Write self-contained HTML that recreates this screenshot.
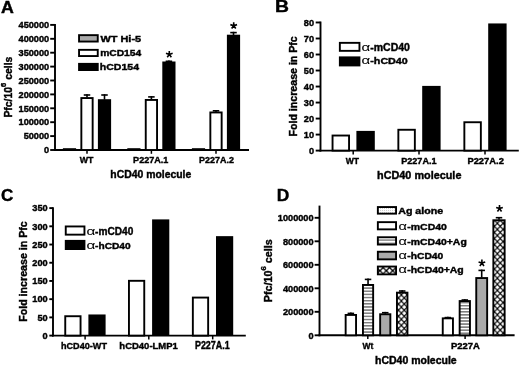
<!DOCTYPE html>
<html><head><meta charset="utf-8"><style>
html,body{margin:0;padding:0;background:#fff;overflow:hidden;}
svg{display:block;filter:grayscale(1) blur(0.3px);}
text{font-family:"Liberation Sans",sans-serif;fill:#000;stroke:#000;stroke-width:0.4px;}
</style></head><body>
<svg width="520" height="366" viewBox="0 0 520 366">
<defs>
<pattern id="stripes" width="6" height="3.14" patternUnits="userSpaceOnUse" y="1.61"><rect width="6" height="3.14" fill="#fff"/><rect y="0" width="6" height="1.5" fill="#7c7c7c"/></pattern>
<pattern id="stripes2" width="6" height="3.06" patternUnits="userSpaceOnUse" y="2.0"><rect width="6" height="3.06" fill="#fff"/><rect y="0" width="6" height="1.5" fill="#7c7c7c"/></pattern>
<pattern id="stripesL" width="6" height="3.2" patternUnits="userSpaceOnUse" y="2.6"><rect width="6" height="3.2" fill="#fff"/><rect y="0" width="6" height="1.4" fill="#7c7c7c"/></pattern>
<pattern id="xhatch" width="5.8" height="6.1" patternUnits="userSpaceOnUse" x="395.55" y="294.9"><rect width="5.8" height="6.1" fill="#fff"/><path d="M-1,-1.05 L6.8,7.15 M-1,7.15 L6.8,-1.05" stroke="#000" stroke-width="1.15"/></pattern>
<pattern id="xhatch2" width="5.8" height="6.1" patternUnits="userSpaceOnUse" x="497.35" y="223.3"><rect width="5.8" height="6.1" fill="#fff"/><path d="M-1,-1.05 L6.8,7.15 M-1,7.15 L6.8,-1.05" stroke="#000" stroke-width="1.15"/></pattern>
<pattern id="xhatchL" width="6.4" height="6.4" patternUnits="userSpaceOnUse" x="2.3" y="1.9"><rect width="6.4" height="6.4" fill="#fff"/><path d="M-1,-1 L7.4,7.4 M-1,7.4 L7.4,-1" stroke="#000" stroke-width="1.3"/></pattern>
<pattern id="dots" width="2" height="2" patternUnits="userSpaceOnUse"><rect width="2" height="2" fill="#fff"/><rect width="1" height="1" fill="#c8c8c8"/></pattern>
<pattern id="dotsL" width="2" height="2" patternUnits="userSpaceOnUse"><rect width="2" height="2" fill="#fff"/><rect width="1" height="1" fill="#cfcfcf"/></pattern>
</defs>
<rect width="520" height="366" fill="#fff"/>
<text transform="translate(0.96,12.60) scale(1.135,1)" font-size="15.65" font-family='"Liberation Sans",sans-serif' font-weight="bold">A</text>
<line x1="55.00" y1="23.95" x2="55.00" y2="150.95" stroke="#000" stroke-width="1.9"/>
<line x1="50.20" y1="150.00" x2="55.00" y2="150.00" stroke="#000" stroke-width="1.9"/>
<text x="49.20" y="153.24" font-size="9.2" text-anchor="end" font-weight="bold">0</text>
<line x1="50.20" y1="136.10" x2="55.00" y2="136.10" stroke="#000" stroke-width="1.9"/>
<text x="49.20" y="139.34" font-size="9.2" text-anchor="end" font-weight="bold">50000</text>
<line x1="50.20" y1="122.20" x2="55.00" y2="122.20" stroke="#000" stroke-width="1.9"/>
<text x="49.20" y="125.44" font-size="9.2" text-anchor="end" font-weight="bold">100000</text>
<line x1="50.20" y1="108.30" x2="55.00" y2="108.30" stroke="#000" stroke-width="1.9"/>
<text x="49.20" y="111.54" font-size="9.2" text-anchor="end" font-weight="bold">150000</text>
<line x1="50.20" y1="94.40" x2="55.00" y2="94.40" stroke="#000" stroke-width="1.9"/>
<text x="49.20" y="97.64" font-size="9.2" text-anchor="end" font-weight="bold">200000</text>
<line x1="50.20" y1="80.50" x2="55.00" y2="80.50" stroke="#000" stroke-width="1.9"/>
<text x="49.20" y="83.74" font-size="9.2" text-anchor="end" font-weight="bold">250000</text>
<line x1="50.20" y1="66.60" x2="55.00" y2="66.60" stroke="#000" stroke-width="1.9"/>
<text x="49.20" y="69.84" font-size="9.2" text-anchor="end" font-weight="bold">300000</text>
<line x1="50.20" y1="52.70" x2="55.00" y2="52.70" stroke="#000" stroke-width="1.9"/>
<text x="49.20" y="55.94" font-size="9.2" text-anchor="end" font-weight="bold">350000</text>
<line x1="50.20" y1="38.80" x2="55.00" y2="38.80" stroke="#000" stroke-width="1.9"/>
<text x="49.20" y="42.04" font-size="9.2" text-anchor="end" font-weight="bold">400000</text>
<line x1="50.20" y1="24.90" x2="55.00" y2="24.90" stroke="#000" stroke-width="1.9"/>
<text x="49.20" y="28.14" font-size="9.2" text-anchor="end" font-weight="bold">450000</text>
<line x1="54.05" y1="150.00" x2="249.00" y2="150.00" stroke="#000" stroke-width="1.9"/>
<line x1="87.00" y1="150.00" x2="87.00" y2="153.80" stroke="#000" stroke-width="1.5"/>
<line x1="151.40" y1="150.00" x2="151.40" y2="153.80" stroke="#000" stroke-width="1.5"/>
<line x1="216.00" y1="150.00" x2="216.00" y2="153.80" stroke="#000" stroke-width="1.5"/>
<rect x="63.85" y="149.15" width="11.30" height="0.85" fill="#a9a9a9" stroke="#000" stroke-width="1.9"/>
<rect x="81.35" y="98.05" width="11.30" height="51.95" fill="white" stroke="#000" stroke-width="1.9"/>
<line x1="87.00" y1="97.60" x2="87.00" y2="94.20" stroke="#000" stroke-width="1.6"/>
<line x1="83.75" y1="95.00" x2="90.25" y2="95.00" stroke="#000" stroke-width="1.6"/>
<rect x="97.90" y="99.20" width="13.20" height="50.80" fill="#000"/>
<line x1="104.50" y1="99.70" x2="104.50" y2="94.20" stroke="#000" stroke-width="1.6"/>
<line x1="101.25" y1="95.00" x2="107.75" y2="95.00" stroke="#000" stroke-width="1.6"/>
<rect x="128.25" y="149.15" width="11.30" height="0.85" fill="#a9a9a9" stroke="#000" stroke-width="1.9"/>
<rect x="145.75" y="99.95" width="11.30" height="50.05" fill="white" stroke="#000" stroke-width="1.9"/>
<line x1="151.40" y1="99.50" x2="151.40" y2="96.10" stroke="#000" stroke-width="1.6"/>
<line x1="148.15" y1="96.90" x2="154.65" y2="96.90" stroke="#000" stroke-width="1.6"/>
<rect x="162.30" y="61.50" width="13.20" height="88.50" fill="#000"/>
<line x1="168.90" y1="62.00" x2="168.90" y2="60.50" stroke="#000" stroke-width="1.6"/>
<line x1="165.65" y1="61.30" x2="172.15" y2="61.30" stroke="#000" stroke-width="1.6"/>
<rect x="192.85" y="149.15" width="11.30" height="0.85" fill="#a9a9a9" stroke="#000" stroke-width="1.9"/>
<rect x="210.35" y="112.45" width="11.30" height="37.55" fill="white" stroke="#000" stroke-width="1.9"/>
<line x1="216.00" y1="112.00" x2="216.00" y2="110.00" stroke="#000" stroke-width="1.6"/>
<line x1="212.75" y1="110.80" x2="219.25" y2="110.80" stroke="#000" stroke-width="1.6"/>
<rect x="226.90" y="34.70" width="13.20" height="115.30" fill="#000"/>
<line x1="233.50" y1="35.20" x2="233.50" y2="31.80" stroke="#000" stroke-width="1.6"/>
<line x1="230.25" y1="32.60" x2="236.75" y2="32.60" stroke="#000" stroke-width="1.6"/>
<path d="M169.30,54.40 L169.30,50.90 M169.30,54.40 L172.63,53.32 M169.30,54.40 L171.36,57.23 M169.30,54.40 L167.24,57.23 M169.30,54.40 L165.97,53.32 " stroke="#000" stroke-width="1.6" stroke-linecap="butt" fill="none"/>
<path d="M233.70,25.70 L233.70,22.20 M233.70,25.70 L237.03,24.62 M233.70,25.70 L235.76,28.53 M233.70,25.70 L231.64,28.53 M233.70,25.70 L230.37,24.62 " stroke="#000" stroke-width="1.6" stroke-linecap="butt" fill="none"/>
<rect x="79.05" y="35.15" width="18.70" height="6.40" fill="#a9a9a9" stroke="#000" stroke-width="1.9"/>
<rect x="79.05" y="49.85" width="18.70" height="6.20" fill="white" stroke="#000" stroke-width="1.9"/>
<rect x="78.10" y="62.90" width="20.60" height="8.10" fill="#000"/>
<text transform="translate(100.50,41.60) scale(1.217,1)" font-size="8.97" font-family='"Liberation Sans",sans-serif' font-weight="bold">WT Hi-5</text>
<text transform="translate(100.13,55.70) scale(1.058,1)" font-size="9.71" font-family='"Liberation Sans",sans-serif' font-weight="bold">mCD154</text>
<text transform="translate(99.76,69.80) scale(1.092,1)" font-size="9.66" font-family='"Liberation Sans",sans-serif' font-weight="bold">hCD154</text>
<text transform="translate(11.90,117.58) rotate(-90) scale(0.995,1)" font-size="10.48" font-weight="bold">Pfc/10<tspan font-size="7.55" dy="-5.87">6</tspan><tspan dy="5.87"> cells</tspan></text>
<text transform="translate(79.80,163.00) scale(0.934,1)" font-size="9.42" font-family='"Liberation Sans",sans-serif' font-weight="bold">WT</text>
<text transform="translate(133.11,163.00) scale(0.978,1)" font-size="9.29" font-family='"Liberation Sans",sans-serif' font-weight="bold">P227A.1</text>
<text transform="translate(199.12,163.00) scale(0.962,1)" font-size="9.29" font-family='"Liberation Sans",sans-serif' font-weight="bold">P227A.2</text>
<text transform="translate(110.27,177.80) scale(0.970,1)" font-size="10.76" font-family='"Liberation Sans",sans-serif' font-weight="bold">hCD40 molecule</text>
<text transform="translate(275.04,12.00) scale(1.192,1)" font-size="16.23" font-family='"Liberation Sans",sans-serif' font-weight="bold">B</text>
<line x1="320.50" y1="21.53" x2="320.50" y2="151.55" stroke="#000" stroke-width="1.9"/>
<line x1="315.70" y1="150.60" x2="320.50" y2="150.60" stroke="#000" stroke-width="1.9"/>
<text x="314.10" y="153.84" font-size="9.2" text-anchor="end" font-weight="bold">0</text>
<line x1="315.70" y1="134.58" x2="320.50" y2="134.58" stroke="#000" stroke-width="1.9"/>
<text x="314.10" y="137.82" font-size="9.2" text-anchor="end" font-weight="bold">10</text>
<line x1="315.70" y1="118.57" x2="320.50" y2="118.57" stroke="#000" stroke-width="1.9"/>
<text x="314.10" y="121.81" font-size="9.2" text-anchor="end" font-weight="bold">20</text>
<line x1="315.70" y1="102.56" x2="320.50" y2="102.56" stroke="#000" stroke-width="1.9"/>
<text x="314.10" y="105.79" font-size="9.2" text-anchor="end" font-weight="bold">30</text>
<line x1="315.70" y1="86.54" x2="320.50" y2="86.54" stroke="#000" stroke-width="1.9"/>
<text x="314.10" y="89.78" font-size="9.2" text-anchor="end" font-weight="bold">40</text>
<line x1="315.70" y1="70.52" x2="320.50" y2="70.52" stroke="#000" stroke-width="1.9"/>
<text x="314.10" y="73.76" font-size="9.2" text-anchor="end" font-weight="bold">50</text>
<line x1="315.70" y1="54.51" x2="320.50" y2="54.51" stroke="#000" stroke-width="1.9"/>
<text x="314.10" y="57.75" font-size="9.2" text-anchor="end" font-weight="bold">60</text>
<line x1="315.70" y1="38.50" x2="320.50" y2="38.50" stroke="#000" stroke-width="1.9"/>
<text x="314.10" y="41.73" font-size="9.2" text-anchor="end" font-weight="bold">70</text>
<line x1="315.70" y1="22.48" x2="320.50" y2="22.48" stroke="#000" stroke-width="1.9"/>
<text x="314.10" y="25.72" font-size="9.2" text-anchor="end" font-weight="bold">80</text>
<line x1="319.55" y1="150.60" x2="518.80" y2="150.60" stroke="#000" stroke-width="1.9"/>
<line x1="353.20" y1="150.60" x2="353.20" y2="154.40" stroke="#000" stroke-width="1.5"/>
<line x1="419.00" y1="150.60" x2="419.00" y2="154.40" stroke="#000" stroke-width="1.5"/>
<line x1="485.00" y1="150.60" x2="485.00" y2="154.40" stroke="#000" stroke-width="1.5"/>
<rect x="332.55" y="135.53" width="16.50" height="15.07" fill="white" stroke="#000" stroke-width="1.9"/>
<rect x="356.40" y="130.90" width="18.40" height="19.70" fill="#000"/>
<rect x="398.35" y="129.77" width="16.50" height="20.83" fill="white" stroke="#000" stroke-width="1.9"/>
<rect x="422.20" y="85.90" width="18.40" height="64.70" fill="#000"/>
<rect x="464.35" y="122.24" width="16.50" height="28.36" fill="white" stroke="#000" stroke-width="1.9"/>
<rect x="488.20" y="23.44" width="18.40" height="127.16" fill="#000"/>
<rect x="339.85" y="42.85" width="19.60" height="8.00" fill="white" stroke="#000" stroke-width="1.9"/>
<rect x="338.90" y="56.40" width="21.50" height="10.00" fill="#000"/>
<text transform="translate(361.40,51.30) scale(1.469,1)" font-size="10.21" font-family='"Liberation Serif",serif' font-weight="normal" style="stroke-width:0.05px">α</text>
<text transform="translate(370.28,51.30) scale(1.037,1)" font-size="10.14" font-family='"Liberation Sans",sans-serif' font-weight="bold">-mCD40</text>
<text transform="translate(361.40,64.20) scale(1.469,1)" font-size="10.21" font-family='"Liberation Serif",serif' font-weight="normal" style="stroke-width:0.05px">α</text>
<text transform="translate(370.27,64.20) scale(1.161,1)" font-size="9.24" font-family='"Liberation Sans",sans-serif' font-weight="bold">-hCD40</text>
<text transform="translate(297.40,136.49) rotate(-90) scale(0.975,1)" font-size="10.90" font-weight="bold">Fold increase in Pfc</text>
<text transform="translate(345.70,163.80) scale(0.921,1)" font-size="9.28" font-family='"Liberation Sans",sans-serif' font-weight="bold">WT</text>
<text transform="translate(401.21,163.80) scale(0.993,1)" font-size="9.14" font-family='"Liberation Sans",sans-serif' font-weight="bold">P227A.1</text>
<text transform="translate(467.39,163.80) scale(1.026,1)" font-size="9.14" font-family='"Liberation Sans",sans-serif' font-weight="bold">P227A.2</text>
<text transform="translate(377.04,178.60) scale(1.009,1)" font-size="10.76" font-family='"Liberation Sans",sans-serif' font-weight="bold">hCD40 molecule</text>
<text transform="translate(0.97,200.90) scale(1.045,1)" font-size="16.29" font-family='"Liberation Sans",sans-serif' font-weight="bold">C</text>
<line x1="53.00" y1="207.15" x2="53.00" y2="336.55" stroke="#000" stroke-width="1.9"/>
<line x1="49.30" y1="335.60" x2="53.00" y2="335.60" stroke="#000" stroke-width="1.9"/>
<text x="47.70" y="338.84" font-size="9.2" text-anchor="end" font-weight="bold">0</text>
<line x1="49.30" y1="317.39" x2="53.00" y2="317.39" stroke="#000" stroke-width="1.9"/>
<text x="47.70" y="320.62" font-size="9.2" text-anchor="end" font-weight="bold">50</text>
<line x1="49.30" y1="299.17" x2="53.00" y2="299.17" stroke="#000" stroke-width="1.9"/>
<text x="47.70" y="302.41" font-size="9.2" text-anchor="end" font-weight="bold">100</text>
<line x1="49.30" y1="280.96" x2="53.00" y2="280.96" stroke="#000" stroke-width="1.9"/>
<text x="47.70" y="284.19" font-size="9.2" text-anchor="end" font-weight="bold">150</text>
<line x1="49.30" y1="262.74" x2="53.00" y2="262.74" stroke="#000" stroke-width="1.9"/>
<text x="47.70" y="265.98" font-size="9.2" text-anchor="end" font-weight="bold">200</text>
<line x1="49.30" y1="244.53" x2="53.00" y2="244.53" stroke="#000" stroke-width="1.9"/>
<text x="47.70" y="247.76" font-size="9.2" text-anchor="end" font-weight="bold">250</text>
<line x1="49.30" y1="226.31" x2="53.00" y2="226.31" stroke="#000" stroke-width="1.9"/>
<text x="47.70" y="229.55" font-size="9.2" text-anchor="end" font-weight="bold">300</text>
<line x1="49.30" y1="208.10" x2="53.00" y2="208.10" stroke="#000" stroke-width="1.9"/>
<text x="47.70" y="211.33" font-size="9.2" text-anchor="end" font-weight="bold">350</text>
<line x1="52.05" y1="335.60" x2="245.80" y2="335.60" stroke="#000" stroke-width="1.9"/>
<line x1="85.10" y1="335.60" x2="85.10" y2="339.40" stroke="#000" stroke-width="1.5"/>
<line x1="148.80" y1="335.60" x2="148.80" y2="339.40" stroke="#000" stroke-width="1.5"/>
<line x1="212.70" y1="335.60" x2="212.70" y2="339.40" stroke="#000" stroke-width="1.5"/>
<rect x="65.25" y="316.22" width="15.30" height="19.38" fill="white" stroke="#000" stroke-width="1.9"/>
<rect x="88.40" y="314.47" width="17.20" height="21.13" fill="#000"/>
<rect x="128.95" y="280.81" width="15.30" height="54.79" fill="white" stroke="#000" stroke-width="1.9"/>
<rect x="152.10" y="219.39" width="17.20" height="116.21" fill="#000"/>
<rect x="192.85" y="297.57" width="15.30" height="38.03" fill="white" stroke="#000" stroke-width="1.9"/>
<rect x="216.00" y="236.15" width="17.20" height="99.45" fill="#000"/>
<rect x="65.75" y="226.45" width="18.70" height="8.20" fill="white" stroke="#000" stroke-width="1.9"/>
<rect x="64.80" y="239.90" width="20.60" height="10.10" fill="#000"/>
<text transform="translate(86.39,234.70) scale(1.490,1)" font-size="10.21" font-family='"Liberation Serif",serif' font-weight="normal" style="stroke-width:0.05px">α</text>
<text transform="translate(95.10,234.70) scale(0.997,1)" font-size="10.14" font-family='"Liberation Sans",sans-serif' font-weight="bold">-mCD40</text>
<text transform="translate(86.39,248.50) scale(1.490,1)" font-size="10.21" font-family='"Liberation Serif",serif' font-weight="normal" style="stroke-width:0.05px">α</text>
<text transform="translate(95.09,248.50) scale(1.118,1)" font-size="9.10" font-family='"Liberation Sans",sans-serif' font-weight="bold">-hCD40</text>
<text transform="translate(26.90,321.79) rotate(-90) scale(0.966,1)" font-size="11.03" font-weight="bold">Fold increase in Pfc</text>
<text transform="translate(60.96,348.50) scale(0.917,1)" font-size="9.93" font-family='"Liberation Sans",sans-serif' font-weight="bold">hCD40-WT</text>
<text transform="translate(119.33,348.50) scale(0.957,1)" font-size="9.93" font-family='"Liberation Sans",sans-serif' font-weight="bold">hCD40-LMP1</text>
<text transform="translate(194.92,348.50) scale(0.870,1)" font-size="10.29" font-family='"Liberation Sans",sans-serif' font-weight="bold">P227A.1</text>
<text transform="translate(276.67,200.90) scale(1.053,1)" font-size="16.52" font-family='"Liberation Sans",sans-serif' font-weight="bold">D</text>
<line x1="319.50" y1="205.60" x2="319.50" y2="336.25" stroke="#000" stroke-width="1.9"/>
<line x1="314.60" y1="335.30" x2="319.50" y2="335.30" stroke="#000" stroke-width="1.9"/>
<text x="313.60" y="338.54" font-size="9.2" text-anchor="end" font-weight="bold">0</text>
<line x1="314.60" y1="311.80" x2="319.50" y2="311.80" stroke="#000" stroke-width="1.9"/>
<text x="313.60" y="315.04" font-size="9.2" text-anchor="end" font-weight="bold">200000</text>
<line x1="314.60" y1="288.30" x2="319.50" y2="288.30" stroke="#000" stroke-width="1.9"/>
<text x="313.60" y="291.54" font-size="9.2" text-anchor="end" font-weight="bold">400000</text>
<line x1="314.60" y1="264.80" x2="319.50" y2="264.80" stroke="#000" stroke-width="1.9"/>
<text x="313.60" y="268.04" font-size="9.2" text-anchor="end" font-weight="bold">600000</text>
<line x1="314.60" y1="241.30" x2="319.50" y2="241.30" stroke="#000" stroke-width="1.9"/>
<text x="313.60" y="244.54" font-size="9.2" text-anchor="end" font-weight="bold">800000</text>
<line x1="314.60" y1="217.80" x2="319.50" y2="217.80" stroke="#000" stroke-width="1.9"/>
<text x="313.60" y="221.04" font-size="9.2" text-anchor="end" font-weight="bold">1000000</text>
<line x1="318.55" y1="335.30" x2="514.60" y2="335.30" stroke="#000" stroke-width="1.9"/>
<line x1="367.80" y1="335.30" x2="367.80" y2="339.10" stroke="#000" stroke-width="1.5"/>
<line x1="465.10" y1="335.30" x2="465.10" y2="339.10" stroke="#000" stroke-width="1.5"/>
<rect x="345.65" y="314.95" width="10.40" height="20.35" fill="white" stroke="#000" stroke-width="1.9"/>
<line x1="350.85" y1="314.50" x2="350.85" y2="312.60" stroke="#000" stroke-width="1.6"/>
<line x1="347.60" y1="313.40" x2="354.10" y2="313.40" stroke="#000" stroke-width="1.6"/>
<rect x="362.95" y="284.95" width="10.20" height="50.35" fill="url(#stripes)" stroke="#000" stroke-width="1.9"/>
<line x1="368.05" y1="284.50" x2="368.05" y2="278.60" stroke="#000" stroke-width="1.6"/>
<line x1="364.80" y1="279.40" x2="371.30" y2="279.40" stroke="#000" stroke-width="1.6"/>
<rect x="380.15" y="314.25" width="10.20" height="21.05" fill="#a9a9a9" stroke="#000" stroke-width="1.9"/>
<line x1="385.25" y1="313.80" x2="385.25" y2="311.90" stroke="#000" stroke-width="1.6"/>
<line x1="382.00" y1="312.70" x2="388.50" y2="312.70" stroke="#000" stroke-width="1.6"/>
<rect x="396.95" y="292.65" width="10.50" height="42.65" fill="url(#xhatch)" stroke="#000" stroke-width="1.9"/>
<line x1="402.20" y1="292.20" x2="402.20" y2="290.20" stroke="#000" stroke-width="1.6"/>
<line x1="398.95" y1="291.00" x2="405.45" y2="291.00" stroke="#000" stroke-width="1.6"/>
<rect x="442.75" y="318.35" width="10.20" height="16.95" fill="white" stroke="#000" stroke-width="1.9"/>
<line x1="447.85" y1="317.90" x2="447.85" y2="316.80" stroke="#000" stroke-width="1.6"/>
<line x1="444.60" y1="317.60" x2="451.10" y2="317.60" stroke="#000" stroke-width="1.6"/>
<rect x="459.65" y="301.05" width="10.30" height="34.25" fill="url(#stripes2)" stroke="#000" stroke-width="1.9"/>
<line x1="464.80" y1="300.60" x2="464.80" y2="299.20" stroke="#000" stroke-width="1.6"/>
<line x1="461.55" y1="300.00" x2="468.05" y2="300.00" stroke="#000" stroke-width="1.6"/>
<rect x="476.25" y="278.05" width="10.90" height="57.25" fill="#a9a9a9" stroke="#000" stroke-width="1.9"/>
<line x1="481.70" y1="277.60" x2="481.70" y2="269.60" stroke="#000" stroke-width="1.6"/>
<line x1="478.45" y1="270.40" x2="484.95" y2="270.40" stroke="#000" stroke-width="1.6"/>
<rect x="493.35" y="220.25" width="11.30" height="115.05" fill="url(#xhatch2)" stroke="#000" stroke-width="1.9"/>
<line x1="499.00" y1="219.80" x2="499.00" y2="216.90" stroke="#000" stroke-width="1.6"/>
<line x1="495.75" y1="217.70" x2="502.25" y2="217.70" stroke="#000" stroke-width="1.6"/>
<path d="M481.90,263.10 L481.90,259.60 M481.90,263.10 L485.23,262.02 M481.90,263.10 L483.96,265.93 M481.90,263.10 L479.84,265.93 M481.90,263.10 L478.57,262.02 " stroke="#000" stroke-width="1.6" stroke-linecap="butt" fill="none"/>
<path d="M499.50,208.60 L499.50,205.10 M499.50,208.60 L502.83,207.52 M499.50,208.60 L501.56,211.43 M499.50,208.60 L497.44,211.43 M499.50,208.60 L496.17,207.52 " stroke="#000" stroke-width="1.6" stroke-linecap="butt" fill="none"/>
<rect x="377.85" y="207.05" width="18.20" height="6.60" fill="url(#dotsL)" stroke="#000" stroke-width="1.9"/>
<rect x="377.85" y="222.15" width="18.20" height="7.20" fill="white" stroke="#000" stroke-width="1.9"/>
<rect x="377.85" y="237.25" width="18.20" height="7.30" fill="url(#stripesL)" stroke="#000" stroke-width="1.9"/>
<rect x="377.85" y="251.75" width="18.20" height="7.60" fill="#a9a9a9" stroke="#000" stroke-width="1.9"/>
<rect x="377.85" y="266.55" width="18.20" height="7.80" fill="url(#xhatchL)" stroke="#000" stroke-width="1.9"/>
<text transform="translate(398.23,213.70) scale(1.152,1)" font-size="9.24" font-family='"Liberation Sans",sans-serif' font-weight="bold">Ag alone</text>
<text transform="translate(398.62,229.60) scale(1.426,1)" font-size="10.21" font-family='"Liberation Serif",serif' font-weight="normal" style="stroke-width:0.05px">α</text>
<text transform="translate(407.28,229.60) scale(1.132,1)" font-size="9.29" font-family='"Liberation Sans",sans-serif' font-weight="bold">-mCD40</text>
<text transform="translate(398.62,244.60) scale(1.426,1)" font-size="10.21" font-family='"Liberation Serif",serif' font-weight="normal" style="stroke-width:0.05px">α</text>
<text transform="translate(407.28,244.60) scale(1.161,1)" font-size="9.00" font-family='"Liberation Sans",sans-serif' font-weight="bold">-mCD40+Ag</text>
<text transform="translate(398.62,259.30) scale(1.426,1)" font-size="10.21" font-family='"Liberation Serif",serif' font-weight="normal" style="stroke-width:0.05px">α</text>
<text transform="translate(407.29,259.30) scale(1.145,1)" font-size="8.97" font-family='"Liberation Sans",sans-serif' font-weight="bold">-hCD40</text>
<text transform="translate(398.62,273.30) scale(1.426,1)" font-size="10.21" font-family='"Liberation Serif",serif' font-weight="normal" style="stroke-width:0.05px">α</text>
<text transform="translate(407.28,273.30) scale(1.162,1)" font-size="8.97" font-family='"Liberation Sans",sans-serif' font-weight="bold">-hCD40+Ag</text>
<text transform="translate(271.90,302.20) rotate(-90) scale(1.015,1)" font-size="10.62" font-weight="bold">Pfc/10<tspan font-size="7.65" dy="-5.95">6</tspan><tspan dy="5.95"> cells</tspan></text>
<text transform="translate(362.50,348.60) scale(0.871,1)" font-size="9.71" font-family='"Liberation Sans",sans-serif' font-weight="bold">Wt</text>
<text transform="translate(450.98,348.60) scale(0.990,1)" font-size="9.57" font-family='"Liberation Sans",sans-serif' font-weight="bold">P227A</text>
<text transform="translate(375.06,364.30) scale(1.015,1)" font-size="10.34" font-family='"Liberation Sans",sans-serif' font-weight="bold">hCD40 molecule</text>
</svg>
</body></html>
